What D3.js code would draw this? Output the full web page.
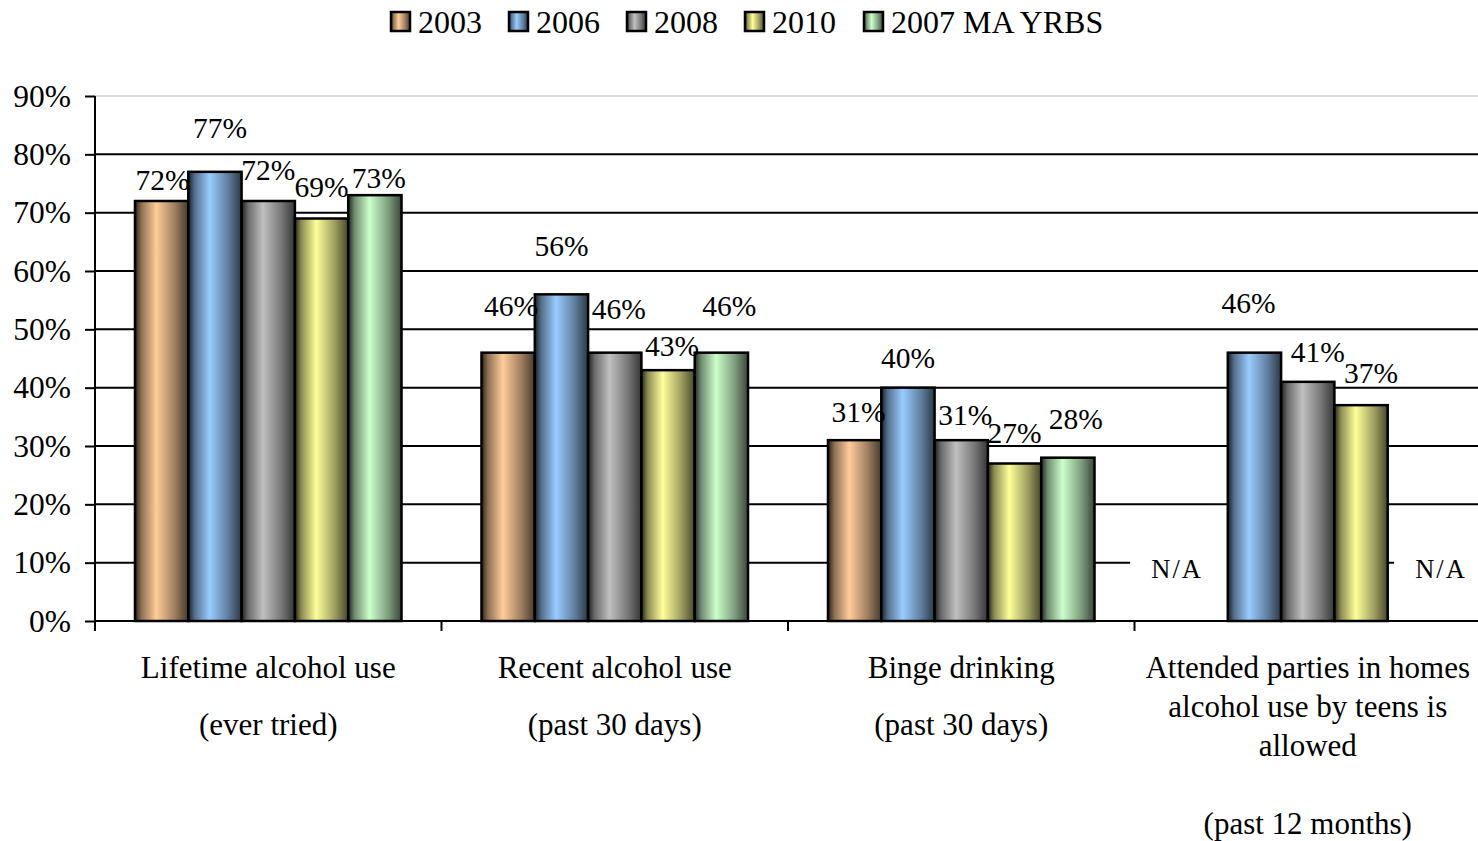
<!DOCTYPE html>
<html><head><meta charset="utf-8">
<script src="https://cdn.jsdelivr.net/npm/d3@7"></script>
<style>body{margin:0;background:#fff}svg{display:block;font-family:"Liberation Serif","Times New Roman",serif}</style>
</head><body><svg id="c" width="1478" height="841"></svg>
<script>
const categories = ["Lifetime alcohol use", "Recent alcohol use", "Binge drinking", "Attended parties in homes"];
const categoryLines = [
  ["Lifetime alcohol use", "", "(ever tried)"],
  ["Recent alcohol use", "", "(past 30 days)"],
  ["Binge drinking", "", "(past 30 days)"],
  ["Attended parties in homes", "alcohol use by teens is", "allowed", "", "(past 12 months)"]
];
const seriesNames = ["2003", "2006", "2008", "2010", "2007 MA YRBS"];
const v2003 = [72, 46, 31, null];
const v2006 = [77, 56, 40, 46];
const v2008 = [72, 46, 31, 41];
const v2010 = [69, 43, 27, 37];
const vMA = [73, 46, 28, null];
const seriesValues = [v2003, v2006, v2008, v2010, vMA];
const yTicks = [0, 10, 20, 30, 40, 50, 60, 70, 80, 90];
const colors = ["#FFCC99", "#99CCFF", "#C0C0C0", "#FFFF99", "#CCFFCC"];
// label nudges (px above bar top / px sideways), per series per category
const labelLift = [[11, 37, 18, 0], [34, 38, 20, 40], [21, 34, 15, 20], [22, 14, 21, 22], [7, 37, 29, 0]];
const labelShift = [[1, 3, 4, 0], [5, 0, 0, -6], [0, 4, 4, 10], [0, 4, 0, 10], [4, 8, 8, 0]];

const svg = d3.select("#c");
const pLeft = 95, pRight = 1481, pTop = 96, pBottom = 621;
const x = d3.scaleBand().domain(categories).range([pLeft, pRight]).paddingInner(0).paddingOuter(0);
const xs = d3.scaleBand().domain(seriesNames).range([0, x.bandwidth()]).paddingInner(0).paddingOuter(0.75);
const y = d3.scaleLinear().domain([0, 90]).range([pBottom, pTop]);

// gradients
const defs = svg.append("defs");
colors.forEach((c, i) => {
  const g = defs.append("linearGradient").attr("id", "g" + i).attr("x1", "0").attr("x2", "1").attr("y1", "0").attr("y2", "0");
  const dark = d3.interpolateRgb(c, "#000");
  g.append("stop").attr("offset", "0").attr("stop-color", dark(0.85));
  g.append("stop").attr("offset", "0.12").attr("stop-color", dark(0.45));
  g.append("stop").attr("offset", "0.4").attr("stop-color", c);
  g.append("stop").attr("offset", "0.75").attr("stop-color", dark(0.38));
  g.append("stop").attr("offset", "1").attr("stop-color", dark(0.72));
});

// gridlines
svg.append("g").selectAll("line").data(yTicks.filter(t => t > 0)).join("line")
  .attr("x1", pLeft).attr("x2", 1478).attr("y1", d => y(d)).attr("y2", d => y(d))
  .attr("stroke", d => d === 90 ? "#d0d0d0" : "#000").attr("stroke-width", d => d === 90 ? 1.5 : 2);

// y axis
const yAxis = svg.append("g").attr("transform", `translate(${pLeft},0)`)
  .call(d3.axisLeft(y).tickValues(yTicks).tickFormat(d => d + "%").tickSize(10).tickPadding(14));
yAxis.select(".domain").attr("stroke", "#000").attr("stroke-width", 2).attr("d", `M0,${pTop}V${pBottom + 10}`);
yAxis.selectAll(".tick line").attr("stroke", "#000").attr("stroke-width", 2);
yAxis.selectAll(".tick text").attr("font-size", 31.5).attr("fill", "#000").attr("font-family", "Liberation Serif");

// x axis
const xAxisG = svg.append("g");
xAxisG.append("line").attr("x1", pLeft).attr("x2", 1478).attr("y1", pBottom).attr("y2", pBottom).attr("stroke", "#000").attr("stroke-width", 2);
xAxisG.selectAll("line.t").data(categories.slice(1)).join("line").attr("class", "t")
  .attr("x1", d => x(d)).attr("x2", d => x(d)).attr("y1", pBottom).attr("y2", pBottom + 10)
  .attr("stroke", "#000").attr("stroke-width", 2);

// N/A labels with white background
const naData = [];
categories.forEach((cat, ci) => seriesNames.forEach((s, si) => {
  if (seriesValues[si][ci] === null) naData.push({cat, s, si});
}));
const naG = svg.append("g");
naData.forEach(d => {
  const cx = x(d.cat) + xs(d.s) + xs.bandwidth() / 2 + (d.si === 0 ? -0.45 : 0.5) * xs.bandwidth();
  const bx0 = cx - 47;
  const bx1 = d.si === 0 ? x(d.cat) + xs(seriesNames[1]) : 1478;
  naG.append("rect").attr("x", bx0).attr("y", y(10) - 6).attr("width", bx1 - bx0).attr("height", 12).attr("fill", "#fff");
  naG.append("text").attr("x", cx).attr("y", y(10) + 15).attr("text-anchor", "middle")
    .attr("font-size", 26.5).attr("letter-spacing", 2).text("N/A");
});

// bars
const barData = [];
categories.forEach((cat, ci) => seriesNames.forEach((s, si) => {
  const v = seriesValues[si][ci];
  if (v !== null) barData.push({cat, ci, s, si, v});
}));
svg.append("g").selectAll("rect").data(barData).join("rect")
  .attr("x", d => x(d.cat) + xs(d.s)).attr("width", xs.bandwidth())
  .attr("y", d => y(d.v)).attr("height", d => y(0) - y(d.v))
  .attr("fill", d => `url(#g${d.si})`).attr("stroke", "#000").attr("stroke-width", 2.5);

// value labels
svg.append("g").selectAll("text").data(barData).join("text")
  .attr("x", d => x(d.cat) + xs(d.s) + xs.bandwidth() / 2 + labelShift[d.si][d.ci])
  .attr("y", d => y(d.v) - labelLift[d.si][d.ci])
  .attr("text-anchor", "middle").attr("font-size", 29.5).text(d => d.v + "%");

// category labels
const catG = svg.append("g");
categories.forEach((cat, ci) => {
  const lines = categoryLines[ci];
  const t = catG.append("text").attr("text-anchor", "middle").attr("font-size", 31)
    .attr("x", x(cat) + x.bandwidth() / 2).attr("y", 678);
  const lh = lines.length > 3 ? 39 : 28.5;
  lines.forEach((l, li) => {
    t.append("tspan").attr("x", x(cat) + x.bandwidth() / 2).attr("y", 678 + li * lh).text(l);
  });
});

// legend
const legendX = [391, 509, 627, 745, 864];
const lg = svg.append("g");
seriesNames.forEach((s, i) => {
  const g = lg.append("g").attr("transform", `translate(${legendX[i]},12)`);
  g.append("rect").attr("width", 19).attr("height", 19).attr("fill", `url(#g${i})`).attr("stroke", "#000").attr("stroke-width", 2.5);
  g.append("text").attr("x", 27).attr("y", 21).attr("font-size", 32).text(s);
});
</script></body></html>
